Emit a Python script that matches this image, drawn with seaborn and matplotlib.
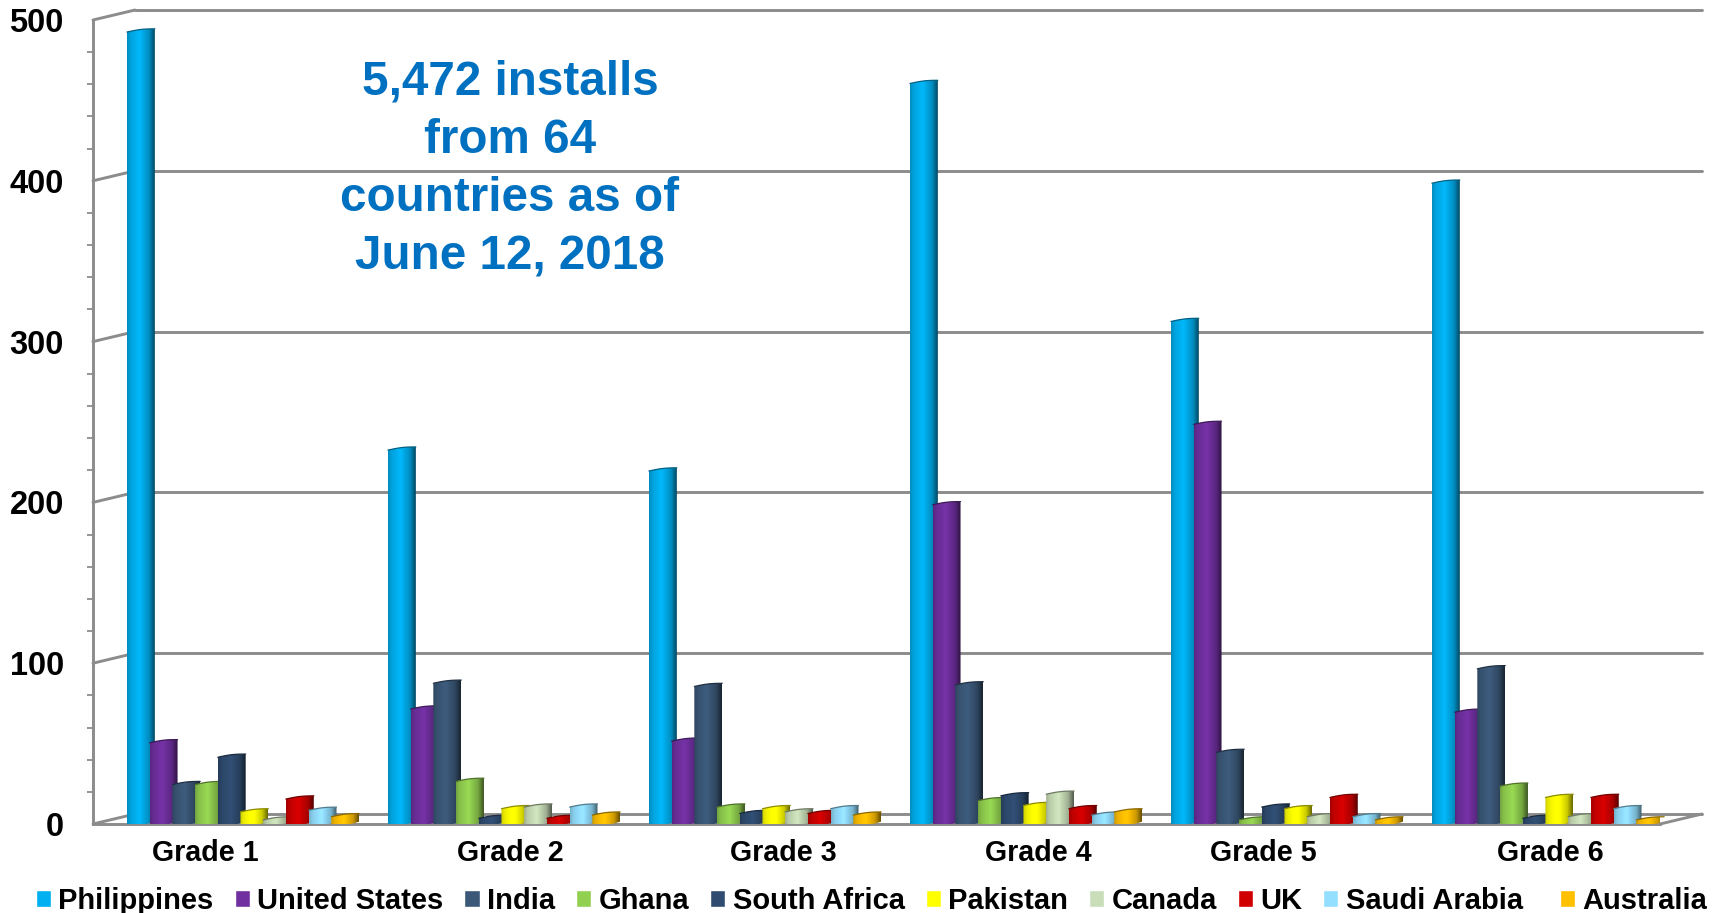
import numpy as np
import pandas as pd
import seaborn as sns
import matplotlib.pyplot as plt
from matplotlib.path import Path
from matplotlib.patches import PathPatch
from matplotlib.transforms import Affine2D, IdentityTransform
from matplotlib.colors import to_rgb

grades = ['Grade 1', 'Grade 2', 'Grade 3', 'Grade 4', 'Grade 5', 'Grade 6']
countries = ['Philippines', 'United States', 'India', 'Ghana', 'South Africa',
             'Pakistan', 'Canada', 'UK', 'Saudi Arabia', 'Australia']

philippines = [493, 233, 220, 461, 313, 399]
united_states = [51, 72, 52, 199, 249, 70]
india = [25, 88, 86, 87, 45, 97]
ghana = [25, 27, 11, 15, 3, 24]
south_africa = [42, 4, 7, 18, 11, 4]
pakistan = [8, 10, 10, 12, 10, 17]
canada = [3, 11, 8, 19, 5, 5]
uk = [16, 4, 7, 10, 17, 17]
saudi_arabia = [9, 11, 10, 6, 5, 10]
australia = [5, 6, 6, 8, 3, 3]

series = [philippines, united_states, india, ghana, south_africa,
          pakistan, canada, uk, saudi_arabia, australia]
colors = ['#00B0F0', '#7030A0', '#3B5878', '#92D050', '#2F4C70',
          '#FFFF00', '#C9DDB8', '#D00000', '#93DFFF', '#FFC000']
yticks = [0, 100, 200, 300, 400, 500]
note = '5,472 installs\nfrom 64\ncountries as of\nJune 12, 2018'

rows = []
for name, vals in zip(countries, series):
    for g, v in zip(grades, vals):
        rows.append({'grade': g, 'country': name, 'installs': v})
df = pd.DataFrame(rows)

sns.set_theme(style='white')
plt.rcParams['font.family'] = ['Liberation Sans', 'DejaVu Sans']
plt.rcParams['font.weight'] = 'bold'
plt.rcParams['text.color'] = 'black'
plt.rcParams['xtick.labelcolor'] = 'black'
plt.rcParams['ytick.labelcolor'] = 'black'

W, H = 1725, 913
fig = plt.figure(figsize=(W / 100, H / 100), dpi=100)
ax = fig.add_axes([93 / W, 1 - 824 / H, (1660 - 93) / W, (824 - 20) / H])

sns.barplot(data=df, x='grade', y='installs', hue='country', order=grades,
            hue_order=countries, palette=colors, width=0.87, gap=-0.23,
            saturation=1, errorbar=None, ax=ax)

ax.set_xlim(-0.575, 5.429)
ax.set_ylim(0, 500)
ax.set_xlabel('')
ax.set_ylabel('')

# cylinder look: each bar gets a horizontal gradient clipped to a slanted outline
z = 5
for container, col in zip(ax.containers, colors):
    base = np.array(to_rgb(col))
    for bar in container:
        x0, w, h = bar.get_x(), bar.get_width(), bar.get_height()
        bar.set_visible(False)
        t = np.linspace(0, 1, 24)
        top = np.maximum(h - 0.5 - 2 * (1 - t) + 0.6 * np.sin(np.pi * t) + 2, 0.5 + 1.5 * t ** 3)
        bottom = 1.5 * t ** 3 - 0.6 * np.sin(np.pi * t)
        xs = x0 + t * w
        pts = np.r_[np.c_[xs, bottom], np.c_[xs[::-1], top[::-1]], [[xs[0], bottom[0]]]]
        outline = PathPatch(Path(pts), transform=ax.transData, fc='none', ec='none')
        ax.add_patch(outline)
        shade = np.interp(np.linspace(0, 1, 40), [0, 0.12, 0.45, 0.8, 1], [0.8, 0.92, 1.05, 0.8, 0.42])
        grad = np.clip(base[None, None, :] * shade[None, :, None], 0, 1)
        im = ax.imshow(grad, extent=(x0, x0 + w, -1, h + 4), aspect='auto', zorder=z, clip_on=True)
        im.set_clip_path(outline)
        ax.plot(xs, top, color=base * 0.55, lw=0.9, zorder=z + 0.5, clip_on=False)
        z += 1

ax.set_xlim(-0.575, 5.429)
ax.set_ylim(0, 500)

# chart walls, set back 42 px right and 10 px up from the front axis
grid_col = '#8C8C8C'
front = ax.get_yaxis_transform()
back = front + Affine2D().translate(42, 10)
for v in yticks:
    ax.plot([0, 1], [v, v], transform=back, color=grid_col, lw=2.1, zorder=1, clip_on=False)
    p0 = front.transform((0, v))
    p1 = back.transform((0, v))
    ax.plot([p0[0], p1[0]], [p0[1], p1[1]], transform=IdentityTransform(),
            color=grid_col, lw=2.1, zorder=1, clip_on=False)
p0 = front.transform((1, 0))
p1 = back.transform((1, 0))
ax.plot([p0[0], p1[0]], [p0[1], p1[1]], transform=IdentityTransform(),
        color=grid_col, lw=2.1, zorder=1, clip_on=False)

for side in ['top', 'right']:
    ax.spines[side].set_visible(False)
for side in ['left', 'bottom']:
    ax.spines[side].set_color(grid_col)
    ax.spines[side].set_linewidth(2.1)
    ax.spines[side].set_zorder(2)

ax.set_yticks(yticks)
ax.set_yticks(np.arange(0, 501, 20), minor=True)
ax.tick_params(axis='y', which='major', length=6, width=1.6, color=grid_col, pad=15,
               labelsize=23.5, labelcolor='black')
ax.tick_params(axis='y', which='minor', length=4, width=1.3, color=grid_col, left=True)

# the grade labels sit off the group centres in the original
label_shift_px = [-38, 6, 18, 12, -24, 2]
ax.set_xticks([i + s / 261 for i, s in enumerate(label_shift_px)], grades)
ax.tick_params(axis='x', length=0, pad=11, labelsize=20.6, labelcolor='black')

fig.text(510 / W, 1 - 169.5 / H, note, color='#0070C0', fontsize=34.3, fontweight='bold',
         ha='center', va='center', linespacing=1.375)

handles = ax.get_legend().legend_handles
labels = [t.get_text() for t in ax.get_legend().get_texts()]
labels[8] = labels[8] + '  '
ax.get_legend().remove()
fig.legend(handles, labels, ncols=10, frameon=False, fontsize=21.0,
           loc='center left', bbox_to_anchor=(36 / W, 1 - 901 / H),
           handlelength=0.52, handleheight=0.52, handletextpad=0.25,
           columnspacing=0.72, borderpad=0, borderaxespad=0)

fig.savefig('out.png', dpi=100)
